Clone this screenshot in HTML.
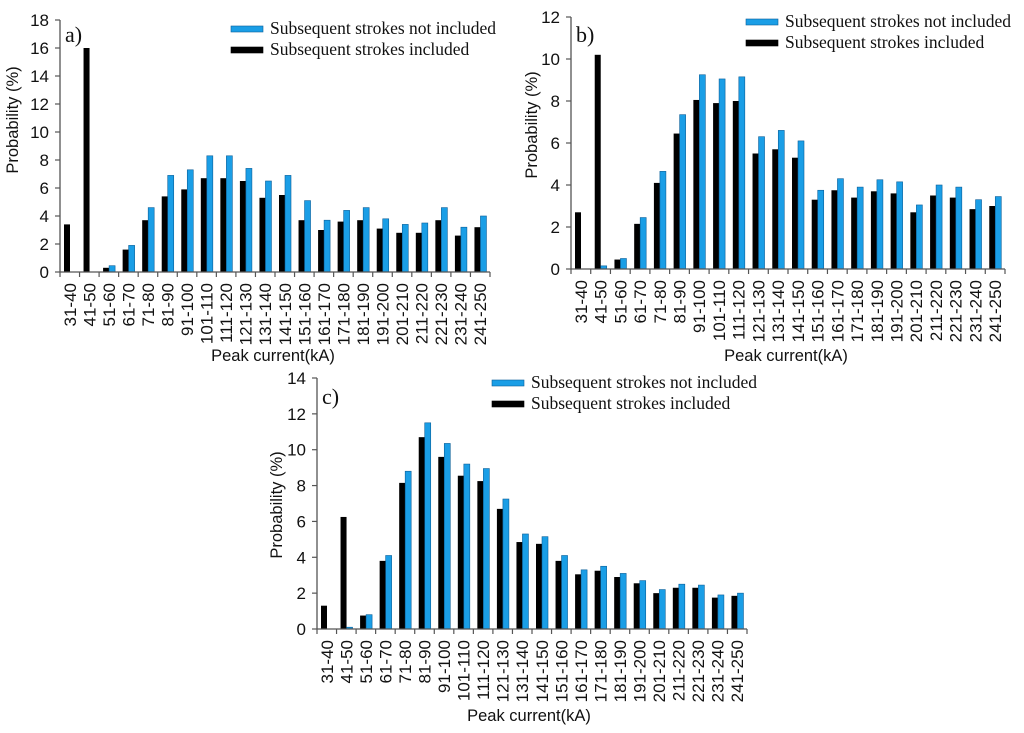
<!DOCTYPE html>
<html><head><meta charset="utf-8">
<style>
html,body{margin:0;padding:0;background:#fff;}
svg{display:block;}
.tk{font-family:"Liberation Sans",sans-serif;font-size:17px;fill:#111;}
.xl{font-family:"Liberation Sans",sans-serif;font-size:17px;fill:#111;}
.ti{font-family:"Liberation Sans",sans-serif;font-size:16.5px;fill:#111;}
.lg{font-family:"Liberation Serif",serif;font-size:17.5px;fill:#111;}
.pl{font-family:"Liberation Serif",serif;font-size:22px;fill:#111;}
</style></head>
<body>
<svg id="fig" width="1024" height="733" viewBox="0 0 1024 733" xmlns="http://www.w3.org/2000/svg"></svg>
<script>
const categories = ["31-40","41-50","51-60","61-70","71-80","81-90","91-100","101-110","111-120","121-130","131-140","141-150","151-160","161-170","171-180","181-190","191-200","201-210","211-220","221-230","231-240","241-250"];
const aIncluded = [3.4,16,0.3,1.6,3.7,5.4,5.9,6.7,6.7,6.5,5.3,5.5,3.7,3.0,3.6,3.7,3.1,2.8,2.8,3.7,2.6,3.2];
const aNotIncluded = [0,0,0.45,1.9,4.6,6.9,7.3,8.3,8.3,7.4,6.5,6.9,5.1,3.7,4.4,4.6,3.8,3.4,3.5,4.6,3.2,4.0];
const bIncluded = [2.7,10.2,0.45,2.15,4.1,6.45,8.05,7.9,8.0,5.5,5.7,5.3,3.3,3.75,3.4,3.7,3.6,2.7,3.5,3.4,2.85,3.0];
const bNotIncluded = [0,0.15,0.5,2.45,4.65,7.35,9.25,9.05,9.15,6.3,6.6,6.1,3.75,4.3,3.9,4.25,4.15,3.05,4.0,3.9,3.3,3.45];
const cIncluded = [1.3,6.25,0.75,3.8,8.15,10.7,9.6,8.55,8.25,6.7,4.85,4.75,3.8,3.05,3.25,2.9,2.55,2.0,2.3,2.3,1.75,1.85];
const cNotIncluded = [0,0.1,0.8,4.1,8.8,11.5,10.35,9.2,8.95,7.25,5.3,5.15,4.1,3.3,3.5,3.1,2.7,2.2,2.5,2.45,1.9,2.0];
const aTicks = [0,2,4,6,8,10,12,14,16,18];
const bTicks = [0,2,4,6,8,10,12];
const cTicks = [0,2,4,6,8,10,12,14];
const legendLabels = ["Subsequent strokes not included","Subsequent strokes included"];

const NS="http://www.w3.org/2000/svg";
const fig=document.getElementById('fig');
function mk(tag,attrs,parent){const e=document.createElementNS(NS,tag);for(const k in attrs)e.setAttribute(k,attrs[k]);(parent||fig).appendChild(e);return e;}

function panel(cfg){
  const g=mk('g',{});
  
  
  const x0=cfg.x0,x1=cfg.x1,y0=cfg.y0,yT=cfg.yTop,ymax=cfg.ticks[cfg.ticks.length-1];
  const n=categories.length, step=(x1-x0)/n;
  const ys=v=>y0-(v/ymax)*(y0-yT);
  const xs=i=>x0+i*step;
  for(let i=0;i<n;i++){
    const hb=y0-ys(cfg.inc[i]);
    const b=mk('rect',{x:xs(i)+4,y:ys(cfg.inc[i]),width:6,height:hb,fill:'#000'},g);
    
    
    if(cfg.not[i]>0){
      const hn=y0-ys(cfg.not[i]);
      const c=mk('rect',{x:xs(i)+10,y:ys(cfg.not[i]),width:6,height:hn,fill:'#1a9ee6',stroke:'#0b5f99','stroke-width':0.6},g);
      
      
    }
  }
  const ax=mk('path',{d:`M${x0} ${yT}V${y0}H${x1}`,stroke:'#555','stroke-width':1.3,fill:'none'},g);
  
  
  cfg.ticks.forEach(t=>{
    mk('line',{x1:x0-5,x2:x0,y1:ys(t),y2:ys(t),stroke:'#555','stroke-width':1.2},g);
    const tx=mk('text',{x:x0-11,y:ys(t)+6,'text-anchor':'end',class:'tk'},g);
    tx.textContent=t;
    
    
  });
  for(let i=0;i<=n;i++) mk('line',{x1:xs(i),x2:xs(i),y1:y0,y2:y0+5,stroke:'#555','stroke-width':1.2},g);
  categories.forEach((c,i)=>{
    const cx=xs(i)+step/2+6, ty=y0+11;
    const t=mk('text',{x:0,y:0,'text-anchor':'end',class:'xl',transform:`translate(${cx},${ty}) rotate(-90)`},g);
    t.textContent=c;
    
    
  });
  const xt=mk('text',{x:cfg.xtX,y:cfg.xtY,'text-anchor':'middle',class:'ti'},g);
  xt.textContent='Peak current(kA)';
  
  
  const yt=mk('text',{x:0,y:0,'text-anchor':'middle',class:'ti',transform:`translate(${cfg.ytX},${cfg.ytY}) rotate(-90)`},g);
  yt.textContent='Probability (%)';
  
  
  const pl=mk('text',{x:x0+5,y:yT+cfg.plDy,class:'pl'},g);
  pl.textContent=cfg.id+')';
  
  
  const cols=['#1a9ee6','#000'];
  legendLabels.forEach((l,k)=>{
    const yy=cfg.lgY+k*21;
    const s=mk('rect',{x:cfg.lgX,y:yy-3,width:32,height:6,fill:cols[k],stroke:k?'#000':'#0b5f99','stroke-width':0.6},g);
    
    
    const t=mk('text',{x:cfg.lgX+39,y:yy+5,class:'lg'},g);
    t.textContent=l;
    
    
  });
}
panel({id:'a',x0:60,x1:490,y0:272,yTop:20,ticks:aTicks,inc:aIncluded,not:aNotIncluded,xtX:273,xtY:361,ytX:18,ytY:120,lgX:231,lgY:29,plDy:22});
panel({id:'b',x0:571,x1:1005,y0:269,yTop:17,ticks:bTicks,inc:bIncluded,not:bNotIncluded,xtX:786,xtY:361,ytX:537,ytY:125,lgX:746,lgY:22,plDy:25});
panel({id:'c',x0:317,x1:747,y0:629,yTop:378,ticks:cTicks,inc:cIncluded,not:cNotIncluded,xtX:529,xtY:721,ytX:282,ytY:505,lgX:492,lgY:383,plDy:26});
</script>
</body></html>
